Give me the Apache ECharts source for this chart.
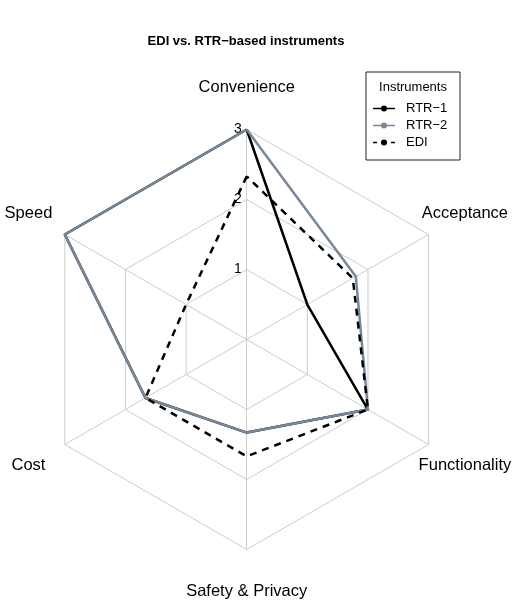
<!DOCTYPE html>
<html>
<head>
<meta charset="utf-8">
<script src="https://cdn.jsdelivr.net/npm/echarts@6/dist/echarts.min.js"></script>
<style>
	html,body{margin:0;padding:0;background:#fff;}
	#main{width:515px;height:602px;}
</style>
</head>
<body>
<div id="main"></div>
<script type="text/javascript">
	// indicators, counter-clockwise from the top (echarts radar order)
	var indicators = ['Convenience','Speed','Cost','Safety & Privacy','Functionality','Acceptance'];
	var ringLabels = ['1','2','3'];
	var seriesNames = ['RTR\u22121','RTR\u22122','EDI'];

	var rtr1 = [3, 3, 1.67, 1.33, 2, 1];
	var rtr2 = [3, 3, 1.67, 1.33, 2, 1.8];
	var edi  = [2.33, 1, 1.67, 1.67, 2, 1.75];

	var FONT = '"Liberation Sans", Arial, Helvetica, sans-serif';
	var cx = 246.7, cy = 339.5, R = 210, nameR = 252, maxV = 3;

	var graphics = [];
	//title
	graphics.push({
		type:'text',
		style:{text:'EDI vs. RTR\u2212based instruments', x:246, y:41, textAlign:'center', textVerticalAlign:'middle', font:'bold 13px ' + FONT, fill:'#000'}
	});
	//axis names
	indicators.forEach(function(name, i){
		var ang = Math.PI/2 + i*2*Math.PI/indicators.length;
		graphics.push({
			type:'text',
			style:{
				text:name,
				x:cx + nameR*Math.cos(ang),
				y:cy - nameR*Math.sin(ang),
				textAlign:'center',
				textVerticalAlign:'middle',
				font:'16.5px ' + FONT,
				fill:'#000'
			}
		});
	});
	//ring labels on the top axis
	ringLabels.forEach(function(t){
		graphics.push({
			type:'text',
			style:{
				text:t,
				x:cx - 5,
				y:cy - R*Number(t)/maxV,
				textAlign:'right',
				textVerticalAlign:'middle',
				font:'14px ' + FONT,
				fill:'#000'
			}
		});
	});
	//legend frame + title
	graphics.push({
		type:'rect',
		shape:{x:366, y:72, width:94, height:88},
		style:{fill:'none', stroke:'#222', lineWidth:1}
	});
	graphics.push({
		type:'text',
		style:{text:'Instruments', x:413, y:87, textAlign:'center', textVerticalAlign:'middle', font:'13px ' + FONT, fill:'#000'}
	});

	var iconSolid = 'path://M0,3.2H22V4.8H0Z M8,4A3,3 0 1,1 14,4A3,3 0 1,1 8,4Z';
	var iconDash = 'path://M0,3.2H4V4.8H0Z M8,4A3,3 0 1,1 14,4A3,3 0 1,1 8,4Z M18,3.2H22V4.8H18Z';

	var colors = ['#000000','#778899','#000000'];

	var myChart = echarts.init(document.getElementById('main'), null, {renderer:'canvas'});
	var option = {
		animation:false,
		backgroundColor:'#fff',
		legend:{
			orient:'vertical',
			left:368,
			top:97,
			itemWidth:22,
			itemHeight:6,
			itemGap:4,
			textStyle:{fontFamily:FONT, fontSize:13, color:'#000', padding:[0,0,0,6]},
			data:[
				{name:seriesNames[0], icon:iconSolid, itemStyle:{color:colors[0], borderWidth:0}},
				{name:seriesNames[1], icon:iconSolid, itemStyle:{color:colors[1], borderWidth:0}},
				{name:seriesNames[2], icon:iconDash, itemStyle:{color:colors[2], borderWidth:0}}
			]
		},
		radar:{
			center:[cx, cy],
			radius:R,
			startAngle:90,
			shape:'polygon',
			splitNumber:3,
			indicator:indicators.map(function(n){ return {name:n, min:0, max:maxV}; }),
			axisName:{show:false},
			axisLine:{lineStyle:{color:'#cccccc', width:1}},
			splitLine:{lineStyle:{color:'#cccccc', width:1}},
			splitArea:{show:false},
			axisLabel:{show:false},
			axisTick:{show:false}
		},
		series:[
			{
				name:seriesNames[0], type:'radar', symbol:'none', z:2,
				itemStyle:{color:colors[0]},
				lineStyle:{color:colors[0], width:2.5},
				data:[{value:rtr1, name:seriesNames[0]}]
			},
			{
				name:seriesNames[1], type:'radar', symbol:'none', z:3,
				itemStyle:{color:colors[1]},
				lineStyle:{color:colors[1], width:2.5},
				data:[{value:rtr2, name:seriesNames[1]}]
			},
			{
				name:seriesNames[2], type:'radar', symbol:'none', z:4,
				itemStyle:{color:colors[2]},
				lineStyle:{color:colors[2], width:2.5, type:[7,6]},
				data:[{value:edi, name:seriesNames[2]}]
			}
		],
		graphic:graphics
	};
	myChart.setOption(option);
</script>
</body>
</html>
